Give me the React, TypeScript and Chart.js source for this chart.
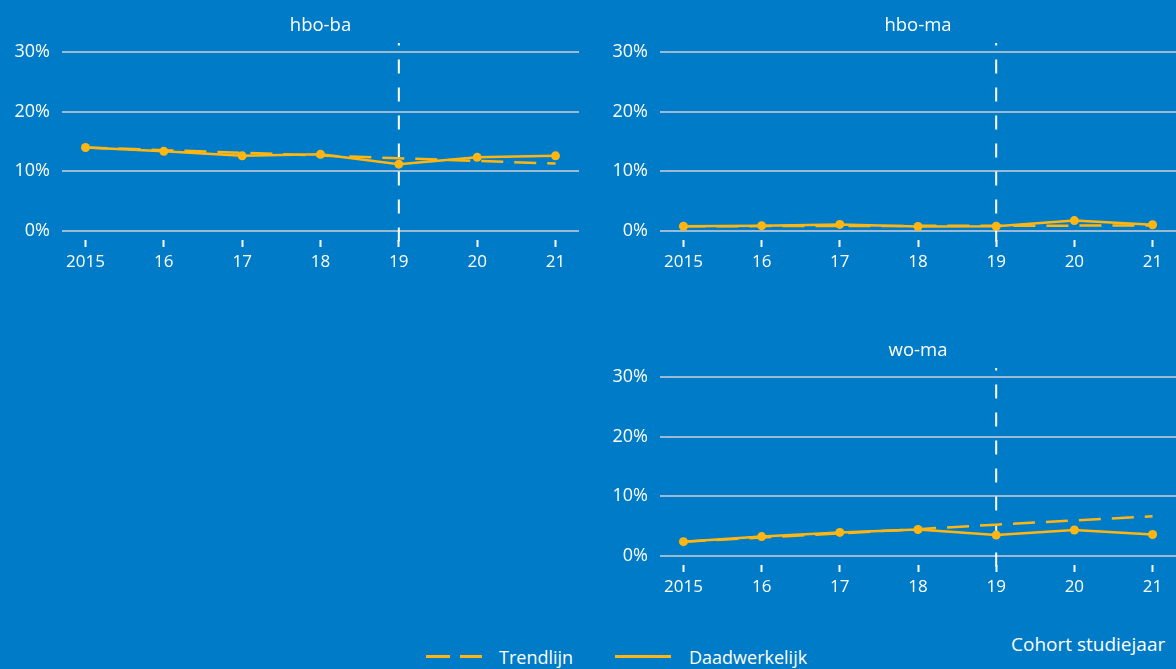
import React, { useEffect, useRef } from "react";
import { Chart, registerables } from "chart.js";

Chart.register(...registerables);

// ---- data ----
const years = [2015, 2016, 2017, 2018, 2019, 2020, 2021];
const yearLabels = ["2015", "16", "17", "18", "19", "20", "21"];
const yTicks = [0, 10, 20, 30];
const breakYear = 2019;

const hboBaActual = [14.0, 13.35, 12.6, 12.85, 11.2, 12.35, 12.6];
const hboBaTrend = [14.0, 13.55, 13.1, 12.65, 12.2, 11.75, 11.3];

const hboMaActual = [0.8, 0.9, 1.1, 0.75, 0.8, 1.75, 1.05];
const hboMaTrend = [0.8, 0.82, 0.84, 0.86, 0.88, 0.9, 0.92];

const woMaActual = [2.4, 3.25, 3.95, 4.45, 3.5, 4.35, 3.6];
const woMaTrend = [2.4, 3.1, 3.8, 4.5, 5.25, 5.95, 6.65];

// ---- styles ----
const BG = "#007BC7";
const YELLOW = "#FFB612";
const GRID = "#9BBAD6";
const FONT = "'Open Sans', 'Noto Sans', sans-serif";

const breakLinePlugin = {
  id: "breakLine",
  beforeDatasetsDraw(chart: any) {
    const { ctx, chartArea, scales } = chart;
    const x = scales.x.getPixelForValue(breakYear);
    ctx.save();
    ctx.strokeStyle = "#ffffff";
    ctx.lineWidth = 2;
    ctx.setLineDash([14, 14]);
    ctx.lineDashOffset = 11.5;
    ctx.beginPath();
    ctx.moveTo(x, chartArea.top - 9);
    ctx.lineTo(x, chartArea.bottom + 16);
    ctx.stroke();
    ctx.restore();
  },
};

type PanelProps = {
  title: string;
  actual: number[];
  trend: number[];
  left: number;
  top: number;
  width: number;
  height: number;
  padLeft: number;
  padRight: number;
};

function Panel(p: PanelProps) {
  const ref = useRef<HTMLCanvasElement | null>(null);
  useEffect(() => {
    if (!ref.current) return;
    const chart = new Chart(ref.current, {
      type: "line",
      data: {
        datasets: [
          {
            label: "Daadwerkelijk",
            data: years.map((x, i) => ({ x, y: p.actual[i] })),
            borderColor: YELLOW,
            backgroundColor: YELLOW,
            borderWidth: 2.5,
            pointRadius: 4.5,
            pointBorderWidth: 0,
            pointBackgroundColor: YELLOW,
            pointBorderColor: YELLOW,
            tension: 0,
          },
          {
            label: "Trendlijn",
            data: years.map((x, i) => ({ x, y: p.trend[i] })),
            borderColor: YELLOW,
            borderWidth: 2.5,
            borderDash: [22, 11],
            pointRadius: 0,
            tension: 0,
          },
        ],
      },
      options: {
        responsive: false,
        animation: false,
        layout: { autoPadding: false, padding: { left: p.padLeft, right: p.padRight, top: 0, bottom: 0 } },
        plugins: {
          legend: { display: false },
          tooltip: { enabled: false },
          title: {
            display: true,
            text: p.title,
            color: "#ffffff",
            fullSize: false,
            font: { family: FONT, size: 18.5, weight: "normal" as any },
            padding: { top: 14.5, bottom: 15.3 },
          },
        },
        scales: {
          x: {
            type: "linear",
            min: 2014.7,
            max: 2021.3,
            afterBuildTicks: (s: any) => {
              s.ticks = years.map((v) => ({ value: v }));
            },
            afterFit: (s: any) => {
              s.height = 59;
              s.paddingLeft = 0;
              s.paddingRight = 0;
            },
            ticks: {
              callback: (v: any) => {
                const i = years.indexOf(Number(v));
                return i >= 0 ? yearLabels[i] : "";
              },
              color: "#ffffff",
              font: { family: FONT, size: 17 },
              padding: 5,
              maxRotation: 0,
              autoSkip: false,
            },
            grid: {
              drawOnChartArea: false,
              drawTicks: true,
              tickLength: 16,
              tickColor: "#ffffff",
              tickWidth: 2,
              tickBorderDash: [7, 9],
              tickBorderDashOffset: 7,
            },
            border: { display: false },
          },
          y: {
            min: 0,
            max: 30,
            afterBuildTicks: (s: any) => {
              s.ticks = yTicks.map((v) => ({ value: v }));
            },
            afterFit: (s: any) => {
              s.width = 62;
            },
            ticks: {
              callback: (v: any) => v + "%",
              color: "#ffffff",
              font: { family: FONT, size: 18 },
              padding: 12,
            },
            grid: { color: GRID, lineWidth: 2, drawTicks: false },
            border: { display: false },
          },
        },
      } as any,
      plugins: [breakLinePlugin],
    });
    return () => chart.destroy();
  }, []);
  return (
    <canvas
      ref={ref}
      width={p.width}
      height={p.height}
      style={{ position: "absolute", left: p.left, top: p.top, width: p.width, height: p.height, display: "block" }}
    />
  );
}

const textStyle: React.CSSProperties = {
  position: "absolute",
  color: "#ffffff",
  fontFamily: FONT,
  fontSize: 18,
  lineHeight: "22px",
  whiteSpace: "nowrap",
};

export default function App() {
  return (
    <div
      style={{
        position: "absolute",
        left: 0,
        top: 0,
        width: 1176,
        height: 669,
        background: BG,
        overflow: "hidden",
      }}
    >
      <Panel title="hbo-ba" actual={hboBaActual} trend={hboBaTrend} left={0} top={0} width={590} height={290} padLeft={0} padRight={11} />
      <Panel title="hbo-ma" actual={hboMaActual} trend={hboMaTrend} left={590} top={0} width={586} height={290} padLeft={8} padRight={0} />
      <Panel title="wo-ma" actual={woMaActual} trend={woMaTrend} left={590} top={325} width={586} height={290} padLeft={8} padRight={0} />

      {/* legend */}
      <div style={{ position: "absolute", left: 426, top: 655, width: 24, height: 3, background: YELLOW }} />
      <div style={{ position: "absolute", left: 460, top: 655, width: 22, height: 3, background: YELLOW }} />
      <div style={{ ...textStyle, left: 499, top: 646 }}>Trendlijn</div>
      <div style={{ position: "absolute", left: 615, top: 655, width: 56, height: 3, background: YELLOW }} />
      <div style={{ ...textStyle, left: 689, top: 646 }}>Daadwerkelijk</div>
      <div style={{ ...textStyle, left: 1011, top: 633, fontSize: 19 }}>Cohort studiejaar</div>
    </div>
  );
}
